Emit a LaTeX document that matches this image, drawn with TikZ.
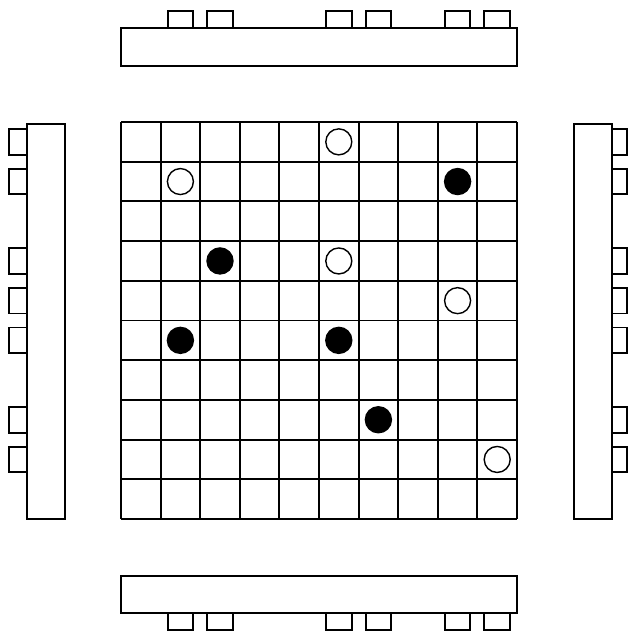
\documentclass[tikz,border=0pt]{standalone}
\begin{document}
\begin{tikzpicture}[x=1pt,y=-1pt,
  ln/.style={line width=1.9pt, black},
  bar/.style={ln, fill=white},
  gridln/.style={ln},
  wstone/.style={line width=1.4pt, draw=black, fill=white},
  bstone/.style={line width=1.4pt, draw=black, fill=black}]
\useasboundingbox (0,0) rectangle (628,633);
\def\gx{121}\def\gy{122}\def\cw{39.6}\def\ch{39.7}
% grid
\foreach \i in {0,...,10}{
  \draw[gridln] ({\gx+\cw*\i},\gy) -- ({\gx+\cw*\i},{\gy+10*\ch});
  \draw[gridln] (\gx,{\gy+\ch*\i}) -- ({\gx+10*\cw},{\gy+\ch*\i});
}
% bars
\draw[bar] (121,28) rectangle (517,66);
\draw[bar] (121,576) rectangle (517,613);
\draw[bar] (27,124) rectangle (65,519);
\draw[bar] (574,124) rectangle (612,519);
% top and bottom tabs
\foreach \c in {1,2,5,6,8,9}{
  \pgfmathsetmacro{\xa}{\gx+\cw*\c+7}
  \pgfmathsetmacro{\xb}{\gx+\cw*(\c+1)-7}
  \draw[ln] (\xa,28) -- (\xa,11) -- (\xb,11) -- (\xb,28);
  \draw[ln] (\xa,613) -- (\xa,630) -- (\xb,630) -- (\xb,613);
}
% left and right tabs
\foreach \r in {0,1,3,4,5,7,8}{
  \pgfmathsetmacro{\ya}{\gy+\ch*\r+7}
  \pgfmathsetmacro{\yb}{\gy+\ch*(\r+1)-7}
  \draw[ln] (27,\ya) -- (9,\ya) -- (9,\yb) -- (27,\yb);
  \draw[ln] (612,\ya) -- (627,\ya) -- (627,\yb) -- (612,\yb);
}
% stones
\foreach \c/\r in {5/0,1/1,5/3,8/4,9/8}{
  \draw[wstone] ({\gx+\cw*(\c+0.5)},{\gy+\ch*(\r+0.5)}) circle (13);
}
\foreach \c/\r in {8/1,2/3,1/5,5/5,6/7}{
  \draw[bstone] ({\gx+\cw*(\c+0.5)},{\gy+\ch*(\r+0.5)}) circle (13);
}
\end{tikzpicture}
\end{document}
